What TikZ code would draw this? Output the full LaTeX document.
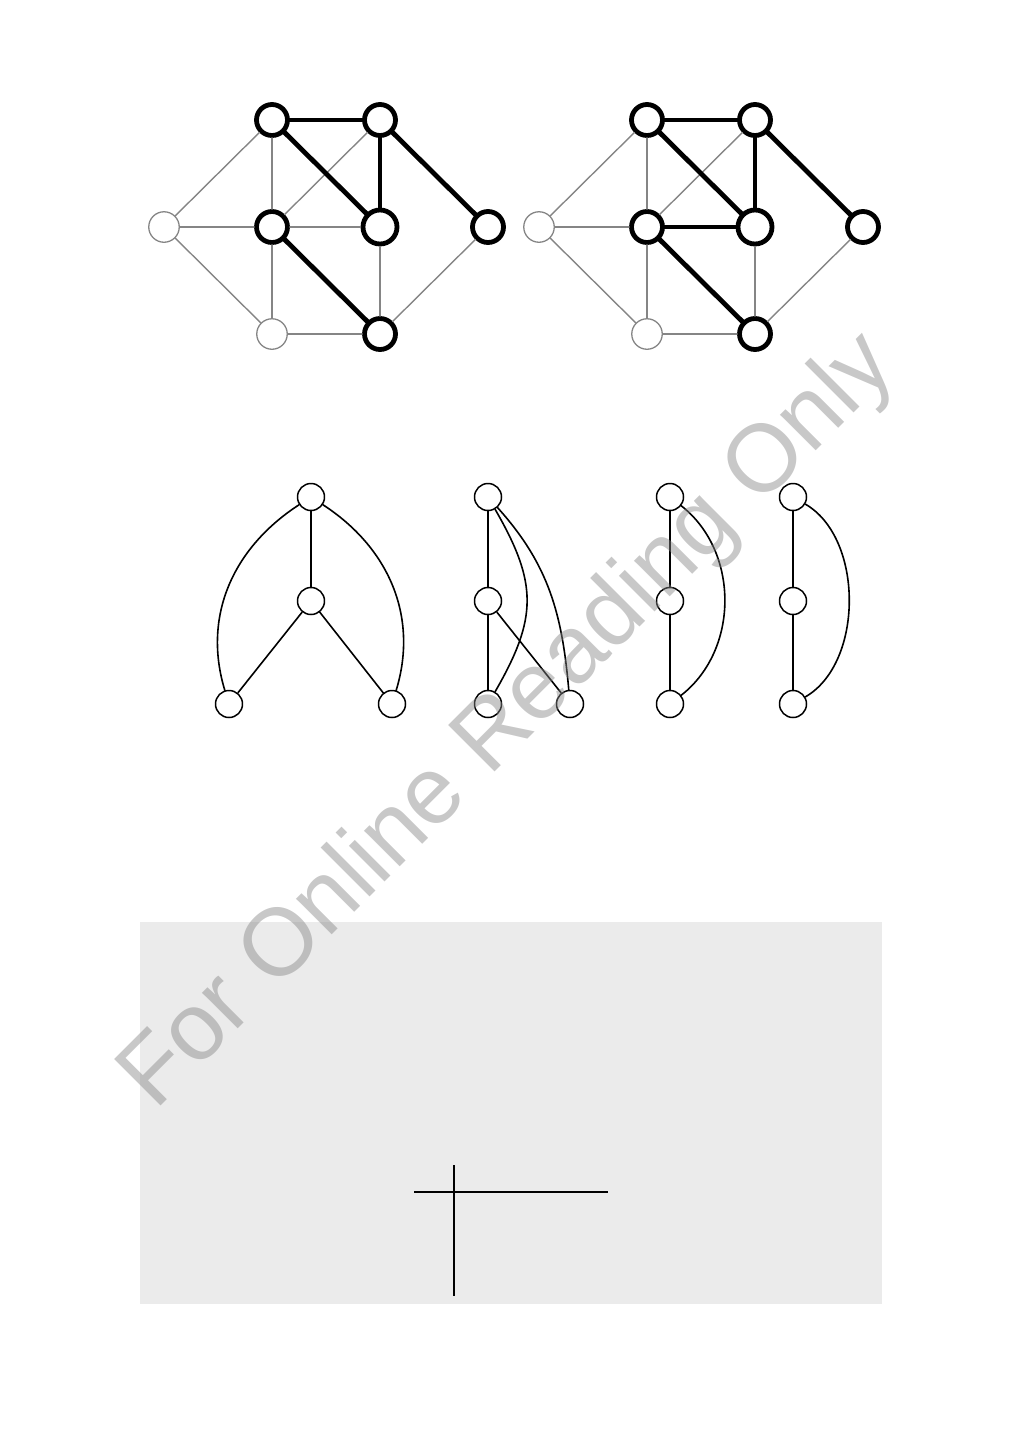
\documentclass[tikz,border=0pt]{standalone}
\usepackage{fontspec}
\newfontfamily\markfont{Liberation Sans}
\usepackage{xcolor}
\definecolor{edgegray}{HTML}{858585}
\definecolor{panelgray}{HTML}{EBEBEB}
\definecolor{markgray}{HTML}{858585}
\usepackage{tikz}
\usetikzlibrary{positioning}
\tikzset{
  every picture/.style={line cap=round, line join=round},
  boldvtx/.style={circle, draw=black, fill=white, line width=4.8pt,
    minimum size=31pt, inner sep=0pt},
  bigvtx/.style={boldvtx, minimum size=34pt},
  dimvtx/.style={circle, draw=edgegray, fill=white, line width=1.3pt,
    minimum size=30.5pt, inner sep=0pt},
  boldedge/.style={black, line width=4.8pt},
  thinedge/.style={edgegray, line width=1.4pt},
  smallvtx/.style={circle, draw=black, fill=white, line width=1.5pt,
    minimum size=27pt, inner sep=0pt},
  arc/.style={black, line width=1.6pt},
}
\begin{document}
\begin{tikzpicture}[x=1pt, y=1pt,
  rule/.style={black, line width=1.8pt, line cap=butt},
  wmark/.style={font=\markfont\fontsize{95.5}{95.5}\selectfont, text=markgray,
    text opacity=0.45, inner sep=0pt, rotate=45, anchor=base west},
]
\useasboundingbox (0,0) rectangle (1009,-1441);

% ------------------------------------------------------------- top pair
\foreach \gx/\g in {0/p,375/q} {
  \begin{scope}[xshift=\gx]
    \node[dimvtx]  (\g L) at (164,-227) {};
    \node[boldvtx] (\g A) at (272,-120) {};
    \node[boldvtx] (\g B) at (380,-120) {};
    \node[boldvtx] (\g C) at (272,-227) {};
    \node[bigvtx]  (\g D) at (380,-227) {};
    \node[boldvtx] (\g R) at (488,-227) {};
    \node[dimvtx]  (\g E) at (272,-334) {};
    \node[boldvtx] (\g F) at (380,-334) {};
  \end{scope}
  \foreach \u/\v in {L/A,L/C,L/E,A/C,B/C,C/E,D/F,E/F,R/F}
    \draw[thinedge] (\g\u) -- (\g\v);
  \foreach \u/\v in {A/B,A/D,B/D,B/R,C/F}
    \draw[boldedge] (\g\u) -- (\g\v);
}
\draw[thinedge] (pC) -- (pD);
\draw[boldedge] (qC) -- (qD);

% ------------------------------------------------------------- four small graphs
\node[smallvtx] (at) at (311,-497) {};
\node[smallvtx] (am) at (311,-601) {};
\node[smallvtx] (al) at (229,-704) {};
\node[smallvtx] (ar) at (392,-704) {};
\draw[arc] (at) -- (am);
\draw[arc] (am) -- (al);
\draw[arc] (am) -- (ar);
\draw[arc] (at) to[out=213, in=107] (al);
\draw[arc] (at) to[out=-33, in=73] (ar);

\node[smallvtx] (bt) at (488,-497) {};
\node[smallvtx] (bm) at (488,-601) {};
\node[smallvtx] (bl) at (488,-704) {};
\node[smallvtx] (br) at (570,-704) {};
\draw[arc] (bt) -- (bm) -- (bl);
\draw[arc] (bm) -- (br);
\draw[arc] (bt) to[out=-60, in=60, looseness=1.2] (bl);
\draw[arc] (bt) to[out=-48, in=95] (br);

\node[smallvtx] (ct) at (670,-497) {};
\node[smallvtx] (cm) at (670,-601) {};
\node[smallvtx] (cb) at (670,-704) {};
\draw[arc] (ct) -- (cm) -- (cb);
\draw[arc] (ct) to[out=-38, in=38] (cb);

\node[smallvtx] (dt) at (793,-497) {};
\node[smallvtx] (dm) at (793,-601) {};
\node[smallvtx] (db) at (793,-704) {};
\draw[arc] (dt) -- (dm) -- (db);
\draw[arc] (dt) to[out=-30, in=30, looseness=0.9] (db);

% ------------------------------------------------------------- panel
\fill[panelgray] (140,-922) rectangle (882,-1304);
\coordinate (vtop) at (454,-1165);
\coordinate (vbot) at (454,-1296);
\coordinate (hlft) at (414,-1192);
\coordinate (hrgt) at (608,-1192);
\draw[rule] (vtop) -- (vbot);
\draw[rule] (hlft) -- (hrgt);

% ------------------------------------------------------------- watermark
\node[wmark] (mark) at (155,-1112) {For Online Reading Only};
\end{tikzpicture}
\end{document}
